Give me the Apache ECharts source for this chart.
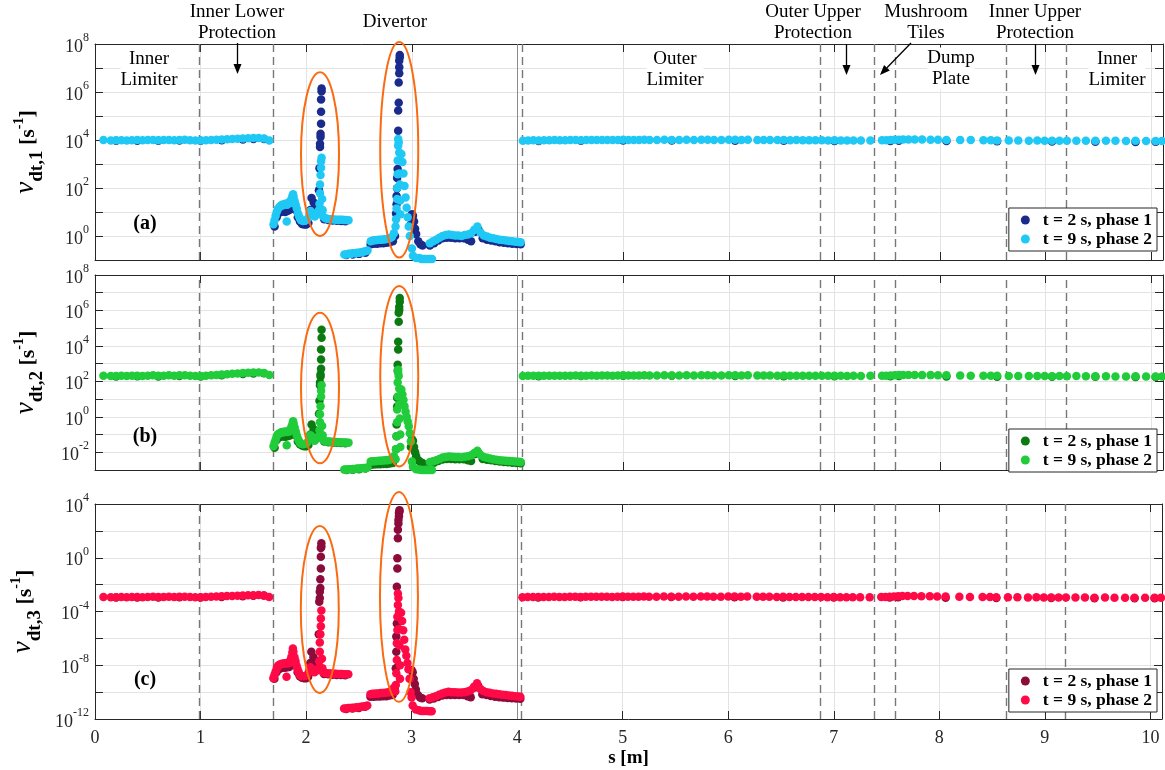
<!DOCTYPE html>
<html><head><meta charset="utf-8">
<script src="https://cdn.jsdelivr.net/npm/echarts@6/dist/echarts.min.js"></script>
<style>html,body{margin:0;padding:0;background:#fff}#c{width:1165px;height:770px}</style>
</head><body><div id="c"></div>
<script>
// ---------------- DATA ----------------
const seriesNames = ['t = 2 s, phase 1', 't = 9 s, phase 2'];
const xTicks = [0,1,2,3,4,5,6,7,8,9,10];
const dividers = [0.995, 1.69, 4.04, 6.865, 7.38, 7.575, 8.635, 9.19];
const solidDivider = [4.005];

// s positions of the flat regions
const sLeft = [0.08,0.15,0.20,0.25,0.30,0.35,0.40,0.45,0.50,0.55,0.60,0.65,0.70,0.75,0.80,0.85,0.90,0.95,1.00,1.05,1.10,1.15,1.20,1.25,1.30,1.35,1.40,1.45,1.50,1.55,1.60,1.65];
const sLeftD = [0.2,0.4,0.6,0.8,1.0,1.2,1.4,1.5,1.6];
const sRight = [4.05,4.10,4.15,4.20,4.25,4.30,4.35,4.40,4.45,4.50,4.55,4.60,4.65,4.70,4.75,4.80,4.85,4.90,4.95,5.00,5.05,5.10,5.15,5.20,5.25,
  5.32,5.39,5.46,5.53,5.60,5.67,5.74,5.80,5.86,5.93,6.00,6.06,6.12,6.18,6.27,6.33,6.39,6.46,6.52,6.58,
  6.64,6.70,6.76,6.82,6.88,6.94,7.00,7.06,7.12,7.18,7.25,7.34,7.45,7.49,7.53,7.57,7.61,7.65,7.70,7.76,
  7.83,7.91,7.98,8.06,8.19,8.29,8.41,8.48,8.54,8.65,8.74,8.84,8.92,8.99,9.06,9.13,9.20,9.29,9.38,9.47,
  9.57,9.66,9.76,9.85,9.95,10.04,10.10];
const sRightD = [4.2,4.6,5.0,5.46,6.06,6.52,7.0,7.53,7.61,8.06,8.54,9.06,9.47,9.85,10.04];

// ---- panel (a): nu_dt,1 ----
const aLeft2 = [1.0e4,9.6e3,9.7e3,9.8e3,9.6e3,9.8e3,9.9e3,9.7e3,9.9e3,1.0e4,9.8e3,9.9e3,1.0e4,9.8e3,1.0e4,1.02e4,9.8e3,9.6e3,9.5e3,9.8e3,1.0e4,1.03e4,1.05e4,1.08e4,1.1e4,1.12e4,1.15e4,1.18e4,1.2e4,1.22e4,1.15e4,9.5e3];
const aLeft1 = [9.3e3,9.4e3,9.3e3,9.5e3,9.2e3,9.8e3,1.05e4,1.1e4,1.1e4];
const aRight2 = [9.4e3,9.6e3,9.7e3,9.6e3,9.8e3,9.7e3,9.9e3,9.8e3,9.7e3,9.9e3,
  1.0e4,9.8e3,9.9e3,1.0e4,9.9e3,1.0e4,1.01e4,9.9e3,1.0e4,1.02e4,
  1.0e4,1.01e4,1.0e4,1.02e4,1.01e4,1.0e4,1.02e4,1.01e4,1.0e4,1.02e4,
  1.01e4,1.03e4,1.02e4,1.0e4,1.01e4,1.03e4,1.02e4,1.01e4,1.02e4,1.0e4,
  1.01e4,1.0e4,9.9e3,1.0e4,9.8e3,9.9e3,9.8e3,9.7e3,9.8e3,9.7e3,
  9.6e3,9.7e3,9.6e3,9.5e3,9.6e3,9.5e3,9.6e3,9.7e3,9.8e3,1.0e4,
  1.02e4,1.03e4,1.05e4,1.06e4,1.05e4,1.04e4,1.03e4,1.02e4,1.01e4,1.0e4,
  9.9e3,9.8e3,9.7e3,9.6e3,9.5e3,9.5e3,9.4e3,9.5e3,9.4e3,9.3e3,
  9.4e3,9.3e3,9.4e3,9.3e3,9.2e3,9.3e3,9.2e3,9.1e3,9.2e3,9.1e3,9.0e3,9.1e3];
const aRight1 = [9.0e3,9.3e3,9.5e3,9.6e3,9.4e3,9.3e3,9.0e3,9.0e3,9.2e3,9.0e3,8.8e3,8.6e3,8.5e3,8.3e3,8.4e3];
const aMid2 = [[1.69,3.1],[1.70,4.5],[1.71,7],[1.72,10],[1.73,13],[1.74,15],[1.75,17],[1.76,18],[1.77,20],[1.78,19],[1.79,21],[1.80,22],[1.815,4],[1.82,20],[1.83,24],[1.84,23],[1.85,28],[1.86,36],[1.87,48],[1.875,55],[1.88,42],[1.89,28],[1.90,20],[1.91,14],[1.92,9],[1.93,7],[1.94,5.5],[1.95,4.5],[1.97,4.2],[1.99,4.3],[2.01,5],[2.03,8],[2.04,11],[2.06,9],[2.08,6.5],[2.10,8],
  [2.12,12],[2.125,22],[2.13,60],[2.13,1.4e2],[2.135,3.5e2],[2.14,7e2],[2.14,1.3e3],[2.145,1.8e3],[2.15,35],[2.155,12],[2.16,6.5],
  [2.18,5.5],[2.20,5.2],[2.22,5.0],[2.24,5.0],[2.26,4.9],[2.28,4.8],[2.30,4.8],[2.32,4.7],[2.34,4.7],[2.36,4.6],[2.38,4.6],[2.40,4.5],
  [2.36,0.17],[2.38,0.17],[2.40,0.18],[2.42,0.18],[2.44,0.19],[2.46,0.19],[2.48,0.2],[2.50,0.2],[2.52,0.21],[2.54,0.22],[2.56,0.23],[2.58,0.25],
  [2.61,0.6],[2.63,0.65],[2.65,0.66],[2.67,0.68],[2.69,0.7],[2.71,0.7],[2.73,0.72],[2.75,0.74],[2.77,0.76],[2.79,0.8],[2.81,0.9],[2.83,1.3],
  [2.845,2.5],[2.85,5],[2.855,14],[2.86,35],[2.86,1.0e2],[2.865,3.7e2],[2.865,1.4e3],[2.87,5.8e3],[2.87,1.1e4],[2.875,8e3],[2.88,3e3],[2.88,4e2],[2.885,1.4e2],[2.89,30],[2.89,8],
  [2.90,2.6e3],[2.91,1.2e3],[2.92,4e2],[2.93,1.2e2],[2.94,40],[2.95,15],[2.96,6],[2.97,2.5],[2.98,1],[3.00,0.3],[3.01,0.15],[3.04,0.12],[3.07,0.12],[3.09,0.11],[3.11,0.11],[3.13,0.11],[3.15,0.11],[3.17,0.11],[3.19,0.11],
  [3.17,0.5],[3.20,0.6],[3.23,0.7],[3.26,0.85],[3.29,1.0],[3.32,1.1],[3.35,1.15],[3.38,1.1],[3.41,1.05],[3.44,1.05],[3.47,1.0],[3.50,1.1],[3.53,1.15],[3.56,1.3],[3.59,1.8],[3.62,2.5],[3.65,1.4],[3.68,1.05],[3.71,0.95],[3.74,0.85],[3.77,0.8],[3.80,0.75],[3.83,0.7],[3.86,0.68],[3.89,0.65],[3.92,0.62],[3.95,0.6],[3.98,0.58],[4.01,0.56],[4.03,0.55]];
const aMid1 = [[1.70,2.5],[1.72,6],[1.74,9],[1.76,10],[1.78,11],[1.80,10],[1.82,11],[1.84,12],[1.86,14],[1.88,22],[1.90,12],[1.92,6],[1.94,4],[1.96,3.2],[1.98,3],[2.00,3],[2.02,3.5],[2.04,12],[2.05,38],[2.07,25],[2.09,15],[2.10,20],
  [2.12,80],[2.125,6.6e2],[2.13,5.1e3],[2.13,6.9e3],[2.135,1.35e4],[2.135,1.8e4],[2.14,4.8e4],[2.14,1.5e5],[2.14,4.9e5],[2.145,1.07e6],[2.145,1.4e6],
  [2.17,5],[2.21,4.6],[2.25,4.4],[2.29,4.3],[2.33,4.2],[2.37,4.1],
  [2.38,0.16],[2.44,0.17],[2.50,0.18],[2.56,0.2],
  [2.61,0.45],[2.64,0.47],[2.67,0.48],[2.70,0.5],[2.73,0.5],[2.76,0.52],[2.79,0.55],[2.82,0.6],[2.84,1.0],
  [2.85,8.7],[2.855,21],[2.855,46],[2.86,98],[2.86,2.6e2],[2.865,6.2e2],[2.87,2.45e4],[2.87,1.7e5],[2.875,3.6e5],[2.875,2.5e6],[2.88,6e6],[2.88,1.07e7],[2.88,2.0e7],[2.885,2.8e7],[2.885,3.5e7],
  [2.99,3],[3.00,8],[3.01,7],[3.02,4],[3.03,2],[3.04,1.2],[3.06,0.6],[3.08,0.45],[3.10,0.4],
  [3.17,0.4],[3.21,0.5],[3.25,0.65],[3.29,0.8],[3.33,0.85],[3.37,0.85],[3.41,0.8],[3.45,0.8],[3.49,0.8],[3.53,0.7],[3.56,0.6],[3.60,1.5],[3.63,1.8],[3.67,0.8],[3.71,0.7],[3.75,0.65],[3.79,0.6],[3.83,0.55],[3.87,0.52],[3.91,0.5],[3.95,0.48],[3.99,0.46],[4.03,0.45]];

// ---- panel (b): nu_dt,2 ----
const bLeft2 = [2.1e2,2.0e2,2.0e2,2.1e2,2.0e2,2.1e2,2.1e2,2.0e2,2.1e2,2.2e2,2.1e2,2.1e2,2.2e2,2.1e2,2.2e2,2.2e2,2.1e2,2.0e2,2.0e2,2.1e2,2.2e2,2.3e2,2.4e2,2.5e2,2.7e2,2.8e2,3.0e2,3.1e2,3.2e2,3.2e2,3.0e2,2.3e2];
const bLeft1 = [1.9e2,1.95e2,1.9e2,2.0e2,1.9e2,2.2e2,2.6e2,2.8e2,2.9e2];
const bRight2 = [2.0e2,2.05e2,2.05e2,2.05e2,2.1e2,2.05e2,2.1e2,2.1e2,2.05e2,2.1e2,
  2.15e2,2.1e2,2.1e2,2.15e2,2.1e2,2.15e2,2.15e2,2.1e2,2.15e2,2.2e2,
  2.15e2,2.15e2,2.15e2,2.2e2,2.15e2,2.15e2,2.2e2,2.15e2,2.15e2,2.2e2,
  2.15e2,2.2e2,2.2e2,2.15e2,2.15e2,2.2e2,2.2e2,2.15e2,2.2e2,2.15e2,
  2.15e2,2.15e2,2.1e2,2.15e2,2.1e2,2.1e2,2.1e2,2.05e2,2.1e2,2.05e2,
  2.05e2,2.05e2,2.05e2,2.0e2,2.05e2,2.0e2,2.05e2,2.05e2,2.1e2,2.15e2,
  2.2e2,2.25e2,2.3e2,2.3e2,2.3e2,2.25e2,2.25e2,2.2e2,2.2e2,2.15e2,
  2.1e2,2.1e2,2.05e2,2.05e2,2.0e2,2.0e2,2.0e2,2.0e2,2.0e2,1.95e2,
  2.0e2,1.95e2,2.0e2,1.95e2,1.95e2,1.95e2,1.9e2,1.9e2,1.95e2,1.9e2,1.9e2,1.9e2];
const bRight1 = [1.95e2,2.0e2,2.05e2,2.05e2,2.0e2,1.95e2,1.95e2,1.95e2,2.0e2,1.9e2,1.85e2,1.85e2,1.8e2,1.75e2,1.75e2];
const bMid2 = [[1.69,0.022],[1.70,0.035],[1.71,0.05],[1.72,0.08],[1.73,0.1],[1.74,0.11],[1.75,0.12],[1.76,0.13],[1.77,0.14],[1.78,0.13],[1.79,0.14],[1.80,0.15],[1.815,0.025],[1.82,0.14],[1.83,0.16],[1.84,0.15],[1.85,0.2],[1.86,0.28],[1.87,0.4],[1.875,0.57],[1.88,0.42],[1.89,0.25],[1.90,0.15],[1.91,0.09],[1.92,0.06],[1.93,0.045],[1.94,0.035],[1.95,0.03],[1.97,0.028],[1.99,0.03],[2.01,0.035],[2.03,0.06],[2.04,0.09],[2.06,0.07],[2.08,0.045],[2.10,0.06],
  [2.12,0.08],[2.125,0.18],[2.13,0.5],[2.13,1.4],[2.135,4],[2.14,14],[2.14,30],[2.145,60],[2.15,0.3],[2.155,0.09],[2.16,0.05],
  [2.18,0.042],[2.20,0.04],[2.22,0.04],[2.24,0.039],[2.26,0.038],[2.28,0.038],[2.30,0.037],[2.32,0.037],[2.34,0.036],[2.36,0.036],[2.38,0.036],[2.40,0.035],
  [2.36,1.05e-3],[2.38,1.05e-3],[2.40,1.1e-3],[2.42,1.1e-3],[2.44,1.15e-3],[2.46,1.15e-3],[2.48,1.2e-3],[2.50,1.2e-3],[2.52,1.25e-3],[2.54,1.3e-3],[2.56,1.3e-3],[2.58,1.4e-3],
  [2.61,3.0e-3],[2.63,3.1e-3],[2.65,3.1e-3],[2.67,3.2e-3],[2.69,3.3e-3],[2.71,3.3e-3],[2.73,3.4e-3],[2.75,3.5e-3],[2.77,3.6e-3],[2.79,3.8e-3],[2.81,4.5e-3],[2.83,6e-3],
  [2.845,4e-3],[2.85,0.015],[2.855,0.08],[2.86,0.5],[2.86,2.6],[2.865,14],[2.865,85],[2.87,3.1e2],[2.87,4.5e2],[2.875,2e2],[2.88,40],[2.88,5],[2.885,0.8],[2.89,0.1],[2.89,0.02],
  [2.90,35],[2.91,18],[2.92,9],[2.93,4],[2.94,2],[2.95,1],[2.96,0.55],[2.97,0.29],[2.98,0.12],[2.99,0.04],[3.00,3e-3],[3.01,1.5e-3],[3.04,1.1e-3],[3.07,1.05e-3],[3.09,1.0e-3],[3.11,1.0e-3],[3.13,1.0e-3],[3.15,1.0e-3],[3.17,1.0e-3],[3.19,1.0e-3],
  [3.17,2.8e-3],[3.20,3.1e-3],[3.23,3.5e-3],[3.26,4.2e-3],[3.29,5e-3],[3.32,5.5e-3],[3.35,5.8e-3],[3.38,5.6e-3],[3.41,5.4e-3],[3.44,5.4e-3],[3.47,5.2e-3],[3.50,5.6e-3],[3.53,6e-3],[3.56,6.8e-3],[3.59,9e-3],[3.62,1.2e-2],[3.65,7e-3],[3.68,5.4e-3],[3.71,4.9e-3],[3.74,4.4e-3],[3.77,4.1e-3],[3.80,3.8e-3],[3.83,3.6e-3],[3.86,3.4e-3],[3.89,3.3e-3],[3.92,3.2e-3],[3.95,3.1e-3],[3.98,3.0e-3],[4.01,2.9e-3],[4.03,2.8e-3]];
const bMid1 = [[1.70,0.018],[1.72,0.05],[1.74,0.07],[1.76,0.075],[1.78,0.08],[1.80,0.075],[1.82,0.08],[1.84,0.085],[1.86,0.1],[1.88,0.2],[1.90,0.09],[1.92,0.04],[1.94,0.028],[1.96,0.024],[1.98,0.022],[2.00,0.022],[2.02,0.026],[2.04,0.1],[2.05,0.37],[2.07,0.2],[2.09,0.1],[2.10,0.15],
  [2.12,1.5],[2.125,8],[2.13,60],[2.13,85],[2.135,1.9e2],[2.135,2.5e2],[2.14,5.2e2],[2.14,1.7e3],[2.14,6.2e3],[2.145,2.9e4],[2.145,8.1e4],
  [2.17,0.04],[2.21,0.037],[2.25,0.035],[2.29,0.034],[2.33,0.033],[2.37,0.032],
  [2.38,1.0e-3],[2.44,1.05e-3],[2.50,1.1e-3],[2.56,1.2e-3],
  [2.61,2.0e-3],[2.64,2.05e-3],[2.67,2.1e-3],[2.70,2.1e-3],[2.73,2.15e-3],[2.76,2.2e-3],[2.79,2.3e-3],[2.82,2.5e-3],[2.84,4e-3],
  [2.85,0.015],[2.855,0.08],[2.855,0.37],[2.86,3.8],[2.86,12],[2.865,4e2],[2.865,8.7e2],[2.87,6.2e3],[2.87,1.7e4],[2.875,2.3e5],[2.875,7.4e5],[2.88,1.07e6],[2.88,1.6e6],[2.885,3.1e6],[2.885,5.1e6],
  [2.99,0.02],[3.00,0.054],[3.01,0.045],[3.02,0.02],[3.03,0.01],[3.04,6e-3],[3.06,3.5e-3],[3.08,2.8e-3],[3.10,2.5e-3],
  [3.17,2.3e-3],[3.21,2.6e-3],[3.25,3.2e-3],[3.29,3.9e-3],[3.33,4.2e-3],[3.37,4.2e-3],[3.41,4.0e-3],[3.45,4.0e-3],[3.49,4.0e-3],[3.53,3.6e-3],[3.56,3.2e-3],[3.60,8e-3],[3.63,9e-3],[3.67,4.2e-3],[3.71,3.8e-3],[3.75,3.5e-3],[3.79,3.2e-3],[3.83,3.0e-3],[3.87,2.8e-3],[3.91,2.7e-3],[3.95,2.6e-3],[3.99,2.5e-3],[4.03,2.4e-3]];

// ---- panel (c): nu_dt,3 ----
const cLeft2 = [1.2e-3,1.15e-3,1.15e-3,1.2e-3,1.15e-3,1.2e-3,1.2e-3,1.15e-3,1.2e-3,1.25e-3,1.2e-3,1.2e-3,1.25e-3,1.2e-3,1.25e-3,1.25e-3,1.2e-3,1.15e-3,1.15e-3,1.2e-3,1.25e-3,1.3e-3,1.35e-3,1.4e-3,1.45e-3,1.5e-3,1.55e-3,1.6e-3,1.65e-3,1.7e-3,1.55e-3,1.2e-3];
const cLeft1 = [1.1e-3,1.1e-3,1.1e-3,1.15e-3,1.1e-3,1.2e-3,1.35e-3,1.5e-3,1.55e-3];
const cRight2 = [1.15e-3,1.2e-3,1.2e-3,1.2e-3,1.2e-3,1.2e-3,1.25e-3,1.2e-3,1.2e-3,1.25e-3,
  1.25e-3,1.2e-3,1.25e-3,1.25e-3,1.25e-3,1.25e-3,1.25e-3,1.2e-3,1.25e-3,1.3e-3,
  1.25e-3,1.25e-3,1.25e-3,1.3e-3,1.25e-3,1.25e-3,1.3e-3,1.25e-3,1.25e-3,1.3e-3,
  1.25e-3,1.3e-3,1.3e-3,1.25e-3,1.25e-3,1.3e-3,1.3e-3,1.25e-3,1.3e-3,1.25e-3,
  1.25e-3,1.25e-3,1.2e-3,1.25e-3,1.2e-3,1.2e-3,1.2e-3,1.2e-3,1.2e-3,1.2e-3,
  1.15e-3,1.2e-3,1.15e-3,1.15e-3,1.15e-3,1.15e-3,1.15e-3,1.2e-3,1.2e-3,1.25e-3,
  1.3e-3,1.35e-3,1.4e-3,1.4e-3,1.4e-3,1.35e-3,1.35e-3,1.3e-3,1.3e-3,1.25e-3,
  1.2e-3,1.2e-3,1.2e-3,1.15e-3,1.15e-3,1.15e-3,1.1e-3,1.15e-3,1.1e-3,1.1e-3,
  1.1e-3,1.1e-3,1.1e-3,1.1e-3,1.05e-3,1.1e-3,1.05e-3,1.05e-3,1.05e-3,1.05e-3,1.05e-3,1.05e-3];
const cRight1 = [1.1e-3,1.15e-3,1.2e-3,1.2e-3,1.15e-3,1.1e-3,1.1e-3,1.1e-3,1.15e-3,1.05e-3,1.0e-3,1.0e-3,9.5e-4,9.5e-4,9.5e-4];
const cMid2 = [[1.69,1.1e-9],[1.70,1.8e-9],[1.71,3e-9],[1.72,5e-9],[1.73,8e-9],[1.74,1.0e-8],[1.75,1.1e-8],[1.76,1.2e-8],[1.77,1.3e-8],[1.78,1.25e-8],[1.79,1.35e-8],[1.80,1.4e-8],[1.815,1.4e-9],[1.82,1.35e-8],[1.83,1.6e-8],[1.84,1.5e-8],[1.85,2.2e-8],[1.86,4e-8],[1.87,9e-8],[1.875,1.8e-7],[1.88,1e-7],[1.89,4e-8],[1.90,2e-8],[1.91,9e-9],[1.92,5e-9],[1.93,3e-9],[1.94,2e-9],[1.95,1.6e-9],[1.97,1.5e-9],[1.99,1.6e-9],[2.01,2e-9],[2.03,4e-9],[2.04,7e-9],[2.06,5e-9],[2.08,3e-9],[2.10,4e-9],
  [2.12,6e-9],[2.125,2e-8],[2.13,1e-7],[2.13,5e-7],[2.135,2e-6],[2.14,8e-6],[2.14,3e-5],[2.145,1.2e-4],[2.15,3e-8],[2.155,6e-9],[2.16,3e-9],
  [2.18,2.6e-9],[2.20,2.5e-9],[2.22,2.4e-9],[2.24,2.4e-9],[2.26,2.3e-9],[2.28,2.3e-9],[2.30,2.2e-9],[2.32,2.2e-9],[2.34,2.2e-9],[2.36,2.1e-9],[2.38,2.1e-9],[2.40,2.1e-9],
  [2.36,6e-12],[2.38,6e-12],[2.40,6.5e-12],[2.42,6.5e-12],[2.44,7e-12],[2.46,7e-12],[2.48,7.5e-12],[2.50,7.5e-12],[2.52,8e-12],[2.54,8.5e-12],[2.56,9e-12],[2.58,1e-11],
  [2.61,7e-11],[2.63,7.5e-11],[2.65,7.5e-11],[2.67,8e-11],[2.69,8e-11],[2.71,8.5e-11],[2.73,8.5e-11],[2.75,9e-11],[2.77,9.5e-11],[2.79,1e-10],[2.81,1.3e-10],[2.83,2e-10],
  [2.845,1.1e-10],[2.85,3.4e-10],[2.855,2.5e-9],[2.86,2.5e-8],[2.86,4.3e-7],[2.865,4.2e-6],[2.865,4e-5],[2.87,3.1e-4],[2.87,2.2e-3],[2.875,1e-3],[2.88,1e-4],[2.88,5e-6],[2.885,3e-7],[2.89,1e-8],[2.89,1e-9],
  [2.90,8e-5],[2.91,2e-5],[2.92,4e-6],[2.93,8e-7],[2.94,1.5e-7],[2.95,5e-8],[2.96,1.5e-8],[2.97,5e-9],[2.98,1e-9],[2.99,1e-10],[3.00,4e-11],[3.01,1e-11],[3.04,5e-12],[3.07,4.5e-12],[3.09,4e-12],[3.11,4e-12],[3.13,4e-12],[3.15,4e-12],[3.17,3.8e-12],[3.19,3.8e-12],
  [3.17,3.5e-11],[3.20,4.2e-11],[3.23,5e-11],[3.26,6.5e-11],[3.29,8e-11],[3.32,9.5e-11],[3.35,1.05e-10],[3.38,1.0e-10],[3.41,1.0e-10],[3.44,9.5e-11],[3.47,9.5e-11],[3.50,1.0e-10],[3.53,1.1e-10],[3.56,1.4e-10],[3.59,2.5e-10],[3.62,4.6e-10],[3.65,1.8e-10],[3.68,1.2e-10],[3.71,1.0e-10],[3.74,9e-11],[3.77,8e-11],[3.80,7.5e-11],[3.83,7e-11],[3.86,6.5e-11],[3.89,6e-11],[3.92,5.6e-11],[3.95,5.3e-11],[3.98,5e-11],[4.01,4.8e-11],[4.03,4.6e-11]];
const cMid1 = [[1.70,1e-9],[1.72,3e-9],[1.74,5e-9],[1.76,6e-9],[1.78,7e-9],[1.80,6.5e-9],[1.82,7e-9],[1.84,7.5e-9],[1.86,1e-8],[1.88,4e-8],[1.90,1e-8],[1.92,3e-9],[1.94,1.5e-9],[1.96,1.2e-9],[1.98,1.1e-9],[2.00,1.1e-9],[2.02,1.4e-9],[2.04,1.5e-8],[2.05,1e-7],[2.07,4e-8],[2.09,1e-8],[2.10,2e-8],
  [2.12,2e-6],[2.125,5.4e-4],[2.13,1e-3],[2.13,3e-3],[2.135,5.6e-3],[2.135,0.025],[2.14,0.16],[2.14,1.2],[2.14,5.4],[2.145,6.6],[2.145,12],
  [2.17,2.2e-9],[2.21,2.1e-9],[2.25,2.0e-9],[2.29,1.9e-9],[2.33,1.9e-9],[2.37,1.8e-9],
  [2.38,5.5e-12],[2.44,6e-12],[2.50,6.5e-12],[2.56,8e-12],
  [2.61,4.5e-11],[2.64,4.6e-11],[2.67,4.7e-11],[2.70,4.8e-11],[2.73,4.9e-11],[2.76,5e-11],[2.79,5.5e-11],[2.82,6e-11],[2.84,2e-10],
  [2.85,5.9e-9],[2.855,1e-7],[2.855,1.35e-6],[2.86,1.3e-5],[2.86,7e-3],[2.865,0.16],[2.865,0.9],[2.87,28],[2.87,1.2e2],[2.875,3.6e2],[2.875,6.5e2],[2.88,1.2e3],[2.88,2.1e3],[2.885,2.8e3],[2.885,3.5e3],
  [2.99,1e-9],[3.00,4.5e-9],[3.01,3e-9],[3.02,1e-9],[3.03,4e-10],[3.04,1.6e-10],[3.06,6e-11],[3.08,4e-11],[3.10,3.5e-11],
  [3.17,2.8e-11],[3.21,3.4e-11],[3.25,4.3e-11],[3.29,5.5e-11],[3.33,6.2e-11],[3.37,6.2e-11],[3.41,6e-11],[3.45,6e-11],[3.49,6e-11],[3.53,5e-11],[3.56,4.2e-11],[3.60,2.2e-10],[3.63,3e-10],[3.67,7e-11],[3.71,6e-11],[3.75,5.2e-11],[3.79,4.6e-11],[3.83,4.2e-11],[3.87,3.9e-11],[3.91,3.7e-11],[3.95,3.5e-11],[3.99,3.3e-11],[4.03,3.2e-11]];

// orange ellipses: [s_from, s_to, nu_low, nu_high]
const ellA = [[1.95,2.31,1.0,6.6e6],[2.70,3.06,0.126,1.2e8]];
const ellB = [[1.95,2.31,2.4e-3,7.4e5],[2.70,3.06,1.6e-3,2.4e7]];
const ellC = [[1.95,2.31,8.7e-11,2.3e2],[2.70,3.06,1.9e-11,7.8e4]];

// ---------------- BUILD ----------------
const SERIF = '"Liberation Serif", "Times New Roman", serif';
const L = v => Math.log10(v);
const zip = (s, v) => s.map((x, i) => [x, L(v[i])]);
const pr = p => p.map(d => [d[0], L(d[1])]);

const panels = [
  {top:44, height:216, min:-1, max:8, interval:1, every:2, sub:'dt,1', tag:'(a)', tagY:224, legTop:208,
   dark:'#1b2b8c', light:'#1fc8f5',
   d1: zip(sLeftD,aLeft1).concat(pr(aMid1), zip(sRightD,aRight1)),
   d2: zip(sLeft,aLeft2).concat(pr(aMid2), zip(sRight,aRight2)), ell: ellA},
  {top:275, height:195, min:-3, max:8, interval:1, every:2, sub:'dt,2', tag:'(b)', tagY:437, legTop:429,
   dark:'#0b7a10', light:'#20cc3a',
   d1: zip(sLeftD,bLeft1).concat(pr(bMid1), zip(sRightD,bRight1)),
   d2: zip(sLeft,bLeft2).concat(pr(bMid2), zip(sRight,bRight2)), ell: ellB},
  {top:504, height:215, min:-12, max:4, interval:2, every:4, sub:'dt,3', tag:'(c)', tagY:680, legTop:669,
   dark:'#8b0c3b', light:'#ff0a46',
   d1: zip(sLeftD,cLeft1).concat(pr(cMid1), zip(sRightD,cRight1)),
   d2: zip(sLeft,cLeft2).concat(pr(cMid2), zip(sRight,cRight2)), ell: ellC}
];

const XMAX = 10.11;
const frame = {show:true, onZero:false, lineStyle:{color:'#262626', width:1}};
const tick = {show:true, inside:true, length:8, lineStyle:{color:'#262626', width:1}};
const gridLine = {show:true, lineStyle:{color:'#e3e3e3', width:1}};

const grid = [], xAxis = [], yAxis = [], series = [], legend = [];
panels.forEach((p, k) => {
  grid.push({left:95, right:2, top:p.top, height:p.height, containLabel:false});
  xAxis.push({gridIndex:k, type:'value', min:0, max:XMAX, interval:1, position:'bottom',
    axisLine:frame, axisTick:tick, splitLine:gridLine,
    axisLabel:{show:k===2, margin:10, fontFamily:SERIF, fontSize:18, color:'#262626',
      formatter: v => (xTicks.indexOf(v) >= 0 ? String(v) : '')},
    name: k===2 ? 's [m]' : '', nameLocation:'middle', nameGap:30,
    nameTextStyle:{fontFamily:SERIF, fontSize:19, fontWeight:'bold', color:'#000'}});
  yAxis.push({gridIndex:k, type:'value', min:p.min, max:p.max, interval:p.interval, position:'left',
    axisLine:frame, axisTick:tick, splitLine:gridLine,
    axisLabel:{margin:6, color:'#262626',
      formatter: v => (Math.round(v) % p.every === 0 ? '{b|10}{e|' + Math.round(v) + '}' : ''),
      rich:{b:{fontFamily:SERIF, fontSize:18, color:'#262626', verticalAlign:'bottom', padding:[6,0,0,0]},
            e:{fontFamily:SERIF, fontSize:12, color:'#262626', verticalAlign:'top'}}},
    name:'{nu|ν}{sub|' + p.sub + '}{br| [s}{sup|-1}{br|]}', nameLocation:'middle', nameGap:48, nameRotate:90,
    nameTextStyle:{fontFamily:SERIF, color:'#000', rich:{
      nu:{fontFamily:SERIF, fontSize:27, fontStyle:'italic', color:'#000', verticalAlign:'bottom', padding:[0,0,8,0]},
      sub:{fontFamily:SERIF, fontSize:19, fontWeight:'bold', color:'#000', verticalAlign:'bottom'},
      br:{fontFamily:SERIF, fontSize:22, fontWeight:'bold', color:'#000', verticalAlign:'bottom', padding:[0,0,8,0]},
      sup:{fontFamily:SERIF, fontSize:14, fontWeight:'bold', color:'#000', verticalAlign:'top'}}}});
});
panels.forEach((p, k) => {
  xAxis.push({gridIndex:k, type:'value', min:0, max:XMAX, interval:1, position:'top',
    axisLine:frame, axisTick:tick, splitLine:{show:false}, axisLabel:{show:false}});
  yAxis.push({gridIndex:k, type:'value', min:p.min, max:p.max, interval:p.interval, position:'right',
    axisLine:frame, axisTick:tick, splitLine:{show:false}, axisLabel:{show:false}});
});

panels.forEach((p, k) => {
  const mlData = dividers.map(x => ({xAxis:x})).concat(
    solidDivider.map(x => ({xAxis:x, lineStyle:{type:'solid', color:'#8a8a8a', width:1}})));
  series.push({type:'scatter', name:seriesNames[0], xAxisIndex:k, yAxisIndex:k, data:p.d1,
    symbol:'circle', symbolSize:8.5, itemStyle:{color:p.dark, opacity:1}, z:3, silent:true,
    markLine:{silent:true, symbol:['none','none'], label:{show:false}, z:1,
      lineStyle:{type:[8,5], color:'#777777', width:1.4}, data:mlData}});
  series.push({type:'scatter', name:seriesNames[1], xAxisIndex:k, yAxisIndex:k, data:p.d2,
    symbol:'circle', symbolSize:8.5, itemStyle:{color:p.light, opacity:1}, z:4, silent:true});
  series.push({type:'custom', xAxisIndex:k, yAxisIndex:k, clip:false, silent:true, z:6,
    encode:{x:[0,1], y:[2,3]},
    data: p.ell.map(e => [e[0], e[1], L(e[2]), L(e[3])]),
    renderItem: (params, api) => {
      const a = api.coord([api.value(0), api.value(3)]);
      const b = api.coord([api.value(1), api.value(2)]);
      return {type:'ellipse', shape:{cx:(a[0]+b[0])/2, cy:(a[1]+b[1])/2, rx:Math.abs(b[0]-a[0])/2, ry:Math.abs(b[1]-a[1])/2},
        style:{fill:null, stroke:'#fb6a10', lineWidth:2}};
    }});
  legend.push({show:true, right:8, top:p.legTop, orient:'vertical', backgroundColor:'#fff',
    borderColor:'#262626', borderWidth:1, borderRadius:0, padding:[3,5,3,12], itemGap:1,
    itemWidth:25, itemHeight:9, itemStyle:{borderWidth:0}, icon:'circle', selectedMode:false, z:10,
    textStyle:{fontFamily:SERIF, fontWeight:'bold', fontSize:17.5, color:'#000', lineHeight:17},
    data:[{name:seriesNames[0], itemStyle:{color:p.dark}}, {name:seriesNames[1], itemStyle:{color:p.light}}]});
});

function txt(t, x, y, opts) {
  return Object.assign({type:'text', z:20, silent:true, style:Object.assign({
    text:t, x:x, y:y, font:'19px ' + SERIF, fill:'#000', align:'center', verticalAlign:'middle',
    textAlign:'center', textVerticalAlign:'middle', lineHeight:21}, opts || {})});
}
function arrow(x1, y1, x2, y2) {
  const ang = Math.atan2(y2 - y1, x2 - x1), hl = 10, hw = 4;
  const bx = x2 - hl * Math.cos(ang), by = y2 - hl * Math.sin(ang);
  const nx = -Math.sin(ang) * hw, ny = Math.cos(ang) * hw;
  return [
    {type:'line', z:20, silent:true, shape:{x1:x1, y1:y1, x2:bx, y2:by}, style:{stroke:'#000', lineWidth:1.3}},
    {type:'polygon', z:20, silent:true, shape:{points:[[x2,y2],[bx+nx,by+ny],[bx-nx,by-ny]]}, style:{fill:'#000'}}
  ];
}
const graphic = [
  txt('Inner Lower\nProtection', 237, 22.5),
  txt('Divertor', 395, 22),
  txt('Outer Upper\nProtection', 813, 22.5),
  txt('Mushroom\nTiles', 926, 22.5),
  txt('Inner Upper\nProtection', 1035, 22.5),
  txt('Inner\nLimiter', 149, 69.5, {backgroundColor:'#fff'}),
  txt('Outer\nLimiter', 675, 69.5, {backgroundColor:'#fff'}),
  txt('Dump\nPlate', 951, 68.5, {backgroundColor:'#fff'}),
  txt('Inner\nLimiter', 1117, 69.5, {backgroundColor:'#fff'})
].concat(
  arrow(237.5, 43, 237.5, 74),
  arrow(846.5, 44, 846.5, 75),
  arrow(1035.5, 44, 1035.5, 75),
  arrow(911, 43, 880, 75),
  panels.map(p => txt(p.tag, 145, p.tagY, {font:'bold 20px ' + SERIF}))
);

const chart = echarts.init(document.getElementById('c'), null, {renderer:'canvas'});
chart.setOption({
  backgroundColor:'#fff', animation:false,
  grid, xAxis, yAxis, series, legend, graphic
});
</script>
</body></html>
